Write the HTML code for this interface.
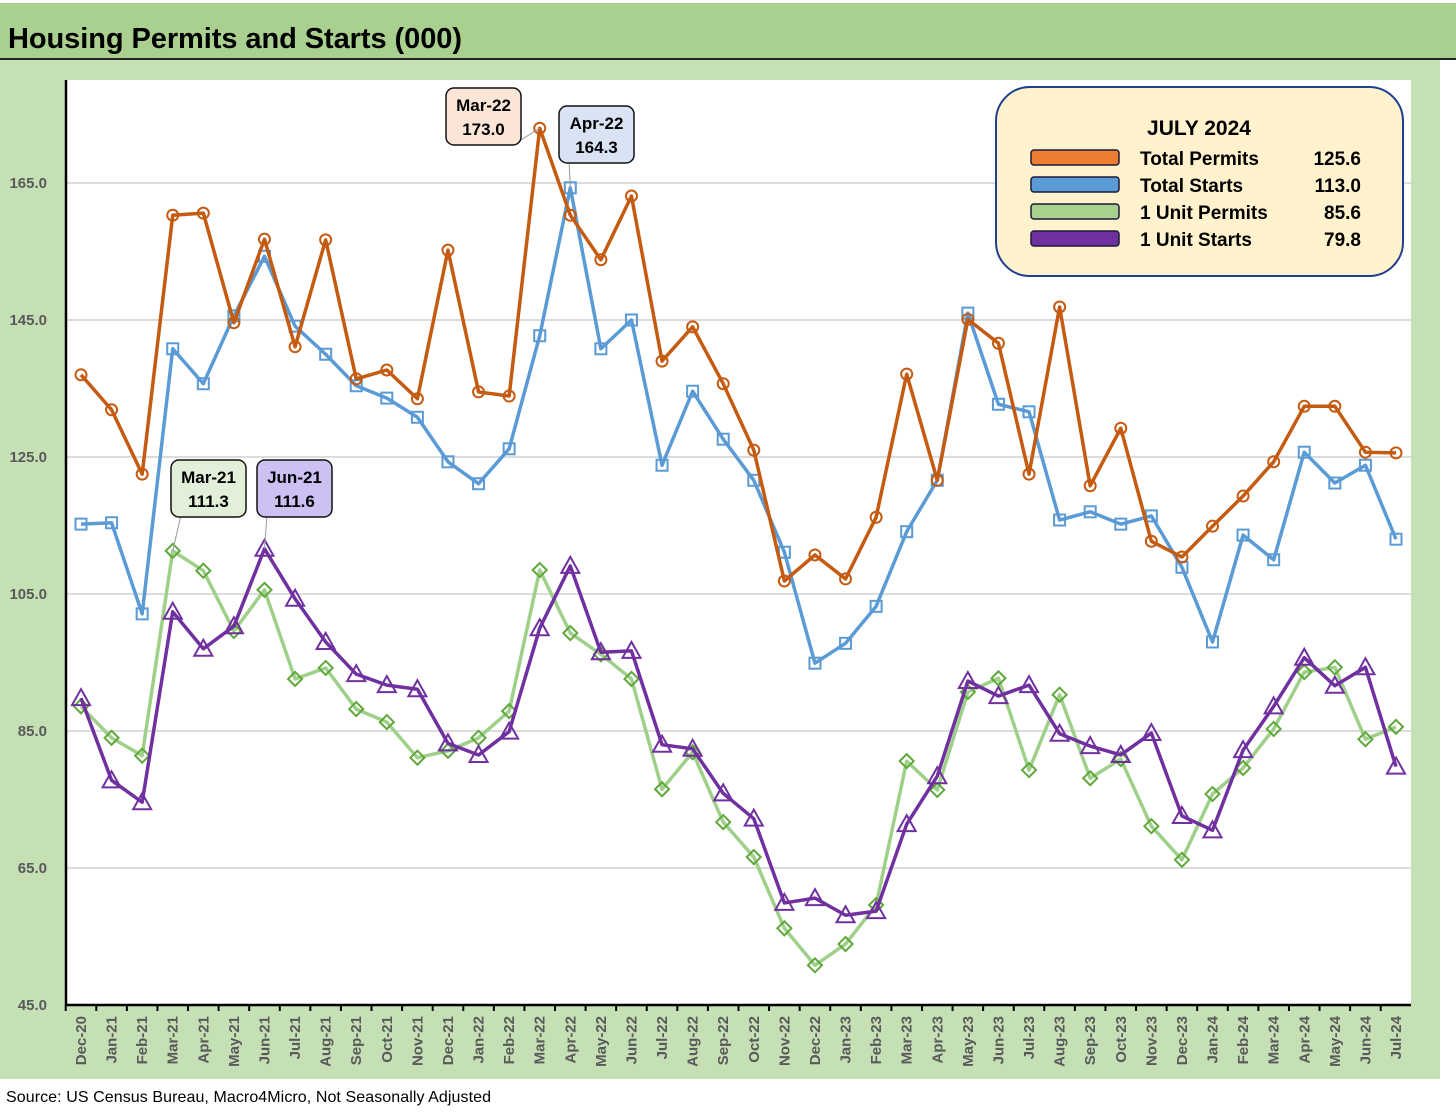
<!DOCTYPE html>
<html><head><meta charset="utf-8"><style>
body{margin:0;background:#fff;}
svg{display:block;font-family:"Liberation Sans",Calibri,sans-serif;}
</style></head><body>
<svg id="chart" width="1456" height="1113" viewBox="0 0 1456 1113">
<rect x="0" y="0" width="1456" height="1113" fill="#fff"/>
<rect x="0" y="3" width="1456" height="56" fill="#a9d08e"/>
<line x1="0" y1="59" x2="1456" y2="59" stroke="#222" stroke-width="2"/>
<rect x="0" y="60" width="1440" height="1019" fill="#c5e0b4"/>
<text x="8" y="48" font-size="29" font-weight="bold" fill="#000" textLength="454">Housing Permits and Starts (000)</text>
<rect x="66" y="80" width="1345" height="925" fill="#fff"/>
<g id="grid"></g>
<g id="series"></g>
<line x1="66" y1="80" x2="66" y2="1005" stroke="#000" stroke-width="2.5"/>
<line x1="66" y1="1005" x2="1411" y2="1005" stroke="#000" stroke-width="2.5"/>
<g id="ticks"></g>
<text x="6" y="1102" font-size="16" fill="#000" textLength="485">Source: US Census Bureau, Macro4Micro, Not Seasonally Adjusted</text>
<g>
<rect x="996" y="87" width="407" height="189" rx="34" fill="#fff2cc" stroke="#1f3f8f" stroke-width="2"/>
<text x="1199" y="135" font-size="21" font-weight="bold" text-anchor="middle">JULY 2024</text>
</g>
<g id="legend"></g>
<g id="annot"></g>
</svg>
<script>
const categories=["Dec-20","Jan-21","Feb-21","Mar-21","Apr-21","May-21","Jun-21","Jul-21","Aug-21","Sep-21","Oct-21","Nov-21","Dec-21","Jan-22","Feb-22","Mar-22","Apr-22","May-22","Jun-22","Jul-22","Aug-22","Sep-22","Oct-22","Nov-22","Dec-22","Jan-23","Feb-23","Mar-23","Apr-23","May-23","Jun-23","Jul-23","Aug-23","Sep-23","Oct-23","Nov-23","Dec-23","Jan-24","Feb-24","Mar-24","Apr-24","May-24","Jun-24","Jul-24"];
const totalPermits=[137.0,131.9,122.5,160.3,160.6,144.6,156.8,141.1,156.7,136.4,137.7,133.5,155.2,134.5,133.9,173.0,160.3,153.8,163.1,139.0,144.0,135.7,126.0,106.9,110.7,107.2,116.2,137.1,121.6,145.1,141.6,122.5,146.9,120.8,129.2,112.7,110.4,114.9,119.3,124.3,132.4,132.4,125.7,125.6];
const totalStarts=[115.2,115.4,102.1,140.8,135.7,145.6,154.3,144.1,140.0,135.4,133.6,130.8,124.3,121.1,126.2,142.7,164.3,140.8,145.0,123.8,134.6,127.6,121.6,111.1,94.9,97.8,103.2,114.1,121.6,146.0,132.7,131.6,115.8,117.0,115.2,116.4,108.9,98.0,113.6,110.0,125.7,121.2,123.8,113.0];
const unitPermits=[88.6,84.0,81.4,111.3,108.4,99.6,105.6,92.6,94.2,88.2,86.3,81.1,82.1,84.0,87.9,108.5,99.3,96.2,92.6,76.5,81.9,71.7,66.6,56.2,50.8,53.9,59.6,80.6,76.4,90.7,92.7,79.3,90.3,78.1,80.9,71.1,66.2,75.8,79.6,85.3,93.6,94.3,83.8,85.6];
const unitStarts=[89.8,77.8,74.6,102.4,97.0,100.3,111.6,104.3,98.0,93.3,91.7,91.1,83.2,81.5,84.9,100.0,109.1,96.5,96.7,83.0,82.4,75.9,72.2,59.9,60.6,58.1,58.7,71.4,78.4,92.3,90.1,91.7,84.6,82.8,81.5,84.7,72.6,70.5,82.2,88.6,95.7,91.6,94.3,79.8];
const yTicks=[45,65,85,105,125,145,165];
const legendNames=["Total Permits","Total Starts","1 Unit Permits","1 Unit Starts"];
const legendValues=["125.6","113.0","85.6","79.8"];

const NS="http://www.w3.org/2000/svg";
const x0=81,x1=1396,yTop=183,yBot=1005,vMin=45,vMax=165;
const xs=i=>x0+i*(x1-x0)/(categories.length-1);
const ys=v=>yBot-(v-vMin)*(yBot-yTop)/(vMax-vMin);
function mk(tag,attrs,parent){const e=document.createElementNS(NS,tag);for(const k in attrs)e.setAttribute(k,attrs[k]);parent.appendChild(e);return e;}
const grid=document.getElementById('grid'),ticks=document.getElementById('ticks');
yTicks.forEach(v=>{
  if(v>vMin){const l=mk('line',{x1:66,x2:1411,y1:ys(v),y2:ys(v),stroke:'#d0d0d0','stroke-width':1.5},grid);
  
  }
  const t=mk('text',{x:47,y:ys(v)+5,'font-size':15,'font-weight':'bold',fill:'#595959','text-anchor':'end'},ticks);
  t.textContent=v.toFixed(1);
  
  
});
categories.forEach((c,i)=>{
  const x=xs(i);
  mk('line',{x1:x-15.3,x2:x-15.3,y1:1005,y2:1011,stroke:'#000','stroke-width':2},ticks);
  const t=mk('text',{x:0,y:0,'font-size':15,'font-weight':'bold',fill:'#595959','text-anchor':'end',transform:`translate(${x+5},1016) rotate(-90)`},ticks);
  t.textContent=c;
  
  
});
const sg=document.getElementById('series');
const defs=[
 {d:unitPermits,c:'#9fd08a',m:'#5fa83a',shape:'diamond',name:'series-1-unit-permits'},
 {d:totalStarts,c:'#5b9bd5',m:'#5b9bd5',shape:'square',name:'series-total-starts'},
 {d:totalPermits,c:'#c55a11',m:'#c55a11',shape:'circle',name:'series-total-permits'},
 {d:unitStarts,c:'#7030a0',m:'#7030a0',shape:'triangle',name:'series-1-unit-starts'}];
defs.forEach(s=>{
  const g=mk('g',{},sg);
  
  
  const p=mk('polyline',{points:s.d.map((v,i)=>xs(i)+','+ys(v)).join(' '),fill:'none',stroke:s.c,'stroke-width':3.5,'stroke-linejoin':'round'},g);
  
  
  s.d.forEach((v,i)=>{
    const x=xs(i),y=ys(v);let e;
    if(s.shape==='circle')e=mk('circle',{cx:x,cy:y,r:5.5,fill:'none',stroke:s.m,'stroke-width':2},g);
    else if(s.shape==='square')e=mk('rect',{x:x-5.5,y:y-5.5,width:11,height:11,fill:'none',stroke:s.m,'stroke-width':2},g);
    else if(s.shape==='diamond')e=mk('polygon',{points:`${x},${y-7} ${x+7},${y} ${x},${y+7} ${x-7},${y}`,fill:'none',stroke:s.m,'stroke-width':2},g);
    else e=mk('polygon',{points:`${x},${y-9} ${x+9},${y+7} ${x-9},${y+7}`,fill:'none',stroke:s.m,'stroke-width':2},g);
    
    
  });
});
const lg=document.getElementById('legend');
const lc=['#ed7d31','#5b9bd5','#a9d18e','#7030a0'];
legendNames.forEach((n,i)=>{
  const y=158+i*27;
  const g=mk('g',{},lg);
  
  
  mk('rect',{x:1031,y:y-8,width:88,height:15,rx:3,fill:lc[i],stroke:'#1a1a3a','stroke-width':1.5},g);
  const t=mk('text',{x:1140,y:y+7,'font-size':19,'font-weight':'bold'},g);t.textContent=n;
  const v=mk('text',{x:1361,y:y+7,'font-size':19,'font-weight':'bold','text-anchor':'end'},g);v.textContent=legendValues[i];
});
const an=document.getElementById('annot');
function callout(idx,arr,label,bx,by,fill,name){
  const g=mk('g',{},an);
  
  
  const px=xs(idx),py=ys(arr[idx]);
  mk('line',{x1:px,y1:py,x2:bx+(px>bx+37?70:10),y2:by+(py>by?55:2),stroke:'#999','stroke-width':1},g);
  mk('rect',{x:bx,y:by,width:75,height:57,rx:8,fill:fill,stroke:'#111','stroke-width':1.5},g);
  const t1=mk('text',{x:bx+37.5,y:by+23,'font-size':17,'font-weight':'bold','text-anchor':'middle'},g);t1.textContent=label;
  const t2=mk('text',{x:bx+37.5,y:by+47,'font-size':17,'font-weight':'bold','text-anchor':'middle'},g);t2.textContent=arr[idx].toFixed(1);
}
callout(15,totalPermits,'Mar-22',446,88,'#fbe5d6','callout-mar-22');
callout(16,totalStarts,'Apr-22',559,106,'#dae3f3','callout-apr-22');
callout(3,unitPermits,'Mar-21',171,460,'#e2f0d9','callout-mar-21');
callout(6,unitStarts,'Jun-21',257,460,'#ccc1f2','callout-jun-21');
</script>
</body></html>
